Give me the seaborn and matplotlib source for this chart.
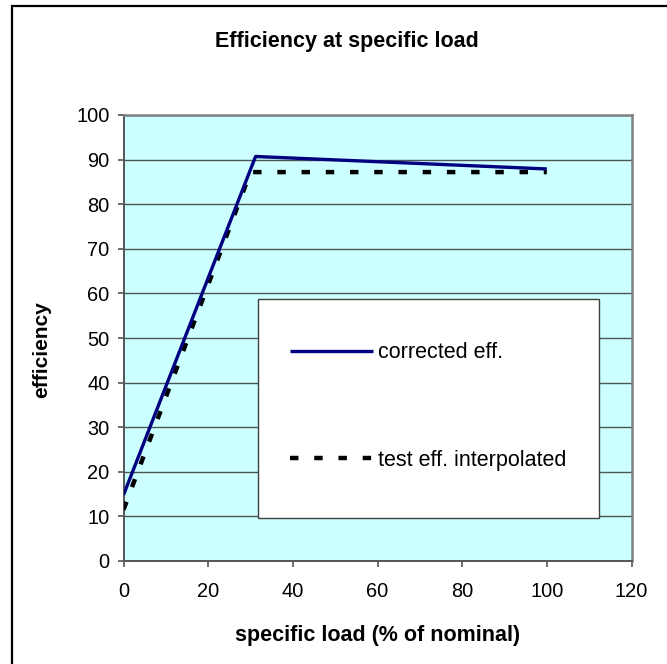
import matplotlib
matplotlib.use("Agg")
import matplotlib.pyplot as plt
import seaborn as sns
import pandas as pd
from matplotlib.patches import Rectangle

# ---- data ----
load_corrected = [0, 31.2, 100]
eff_corrected = [14.8, 90.7, 87.9]
load_test = [0, 30, 100]
eff_test = [11.5, 87.2, 87.2]
series_names = ["corrected eff.", "test eff. interpolated"]
x_ticks = [0, 20, 40, 60, 80, 100, 120]
y_ticks = [0, 10, 20, 30, 40, 50, 60, 70, 80, 90, 100]
title = "Efficiency at specific load"
x_label = "specific load (% of nominal)"
y_label = "efficiency"

sns.set_theme(style="white")
plt.rcParams["font.family"] = ["Liberation Sans", "DejaVu Sans"]
plt.rcParams["text.color"] = "black"
plt.rcParams["axes.labelcolor"] = "black"

W, H = 667, 664
fig = plt.figure(figsize=(W / 100, H / 100), dpi=100)
fig.patch.set_facecolor("white")

# outer chart frame (only top & left visible in the crop)
fig.add_artist(Rectangle((11.7 / W, -0.5), 1.5, 1 - 6 / H + 0.5,
                         transform=fig.transFigure, fill=False,
                         edgecolor="black", linewidth=1.6, clip_on=False))

left, right, top, bottom = 123.5, 631.5, 115, 561
aw, ah = right - left, bottom - top
ax = fig.add_axes([left / W, 1 - bottom / H, aw / W, ah / H])
ax.set_facecolor("#CCFFFF")

df_c = pd.DataFrame({"load": load_corrected, "eff": eff_corrected})
df_t = pd.DataFrame({"load": load_test, "eff": eff_test})

sns.lineplot(data=df_c, x="load", y="eff", ax=ax, color="#000080",
             linewidth=2.4, sort=False, estimator=None, zorder=4)
sns.lineplot(data=df_t, x="load", y="eff", ax=ax, color="black",
             linewidth=3.2, sort=False, estimator=None, zorder=3)
line_c, line_t = ax.lines[0], ax.lines[1]
line_t.set_dashes((1.9, 3.55))
line_t.set_dash_capstyle("butt")
line_c.set_solid_capstyle("butt")

ax.set_xlim(0, 120)
ax.set_ylim(0, 100)
ax.set_xticks(x_ticks)
ax.set_yticks(y_ticks)
ax.set_xticklabels([str(v) for v in x_ticks])
ax.set_yticklabels([str(v) for v in y_ticks])
ax.yaxis.grid(True, color="#4d5555", linewidth=1.0)
ax.xaxis.grid(False)
ax.set_axisbelow(True)

for s in ["top", "right"]:
    ax.spines[s].set_color("#808080")
    ax.spines[s].set_linewidth(1.8)
for s in ["left", "bottom"]:
    ax.spines[s].set_color("#555555")
    ax.spines[s].set_linewidth(1.4)

ax.tick_params(axis="both", which="major", direction="out", length=4,
               width=1.2, color="#555555", labelsize=14.4, labelcolor="black")
ax.tick_params(axis="x", pad=11, bottom=True)
ax.tick_params(axis="y", pad=6, left=True)

ax.set_xlabel(x_label, fontsize=15.5, fontweight="bold", va="center", color="black")
ax.xaxis.set_label_coords(0.5, -(635 - bottom) / ah)
ax.set_ylabel(y_label, fontsize=15, fontweight="bold", va="center", color="black")
ax.yaxis.set_label_coords((42 - left) / aw, (bottom - 350) / ah)

fig.text(347 / W, 1 - 42 / H, title, ha="center", va="center",
         fontsize=15.5, fontweight="bold", color="black")

# legend box
lx0, ly0, lx1, ly1 = 257.7, 299, 599.3, 517.7
ax.add_patch(Rectangle(((lx0 - left) / aw, (bottom - ly1) / ah),
                       (lx1 - lx0) / aw, (ly1 - ly0) / ah,
                       transform=ax.transAxes, facecolor="white",
                       edgecolor="#404040", linewidth=1.0, zorder=5,
                       clip_on=False))
leg = ax.legend([line_c, line_t], series_names, loc="center left",
                bbox_to_anchor=((290 - left) / aw, (bottom - 406.5) / ah),
                borderaxespad=0, borderpad=0, fontsize=15.5, frameon=False,
                labelspacing=4.0, handlelength=3.85, handletextpad=0.25)
leg.set_zorder(6)
for t in leg.get_texts():
    t.set_color("black")

fig.savefig("out.png", dpi=100)
